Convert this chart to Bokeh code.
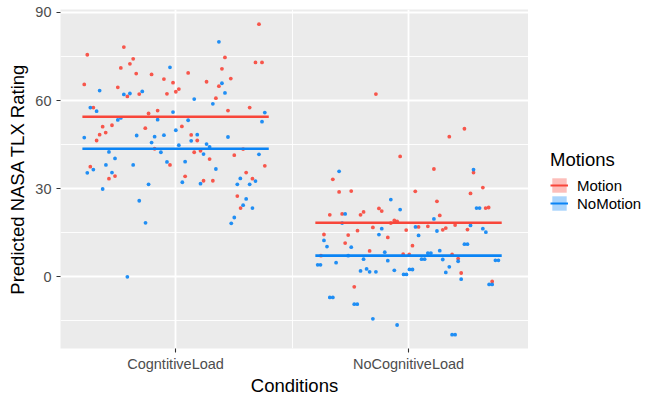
from bokeh.plotting import figure
from bokeh.layouts import row
from bokeh.models import FixedTicker, Legend, LegendItem, Range1d
from bokeh.embed import file_html
from bokeh.resources import INLINE

# ---------------- data ----------------
categories = ["CogntitiveLoad", "NoCognitiveLoad"]
series = ["Motion", "NoMotion"]
y_ticks = [0, 30, 60, 90]

# CogntitiveLoad / Motion (jitter offset around category, predicted rating)
cl_motion_jit = [-0.379, -0.222, -0.182, -0.196, -0.235, -0.392, -0.169, -0.103, -0.248, -0.050,
                 -0.011, -0.207, -0.156, -0.037, 0.001, 0.014, 0.054, 0.133, 0.186, 0.199,
                 0.212, 0.237, 0.173, 0.358, 0.343, 0.371, -0.353, -0.077, -0.116, 0.225,
                 0.318, -0.313, -0.273, -0.326, -0.300, -0.339, -0.130, 0.027, 0.067, 0.093,
                 0.080, 0.107, 0.146, 0.252, 0.290, 0.383, -0.366, -0.260, -0.286, -0.024,
                 0.041, 0.303, 0.330, -0.090, 0.120, 0.160, 0.265, 0.279]
cl_motion_y = [75.6, 78.2, 74.2, 72.5, 71.1, 65.5, 69.2, 68.9, 64.5, 67.3,
               66.1, 61.4, 62.2, 62.3, 63.0, 63.9, 69.4, 66.4, 64.9, 70.8,
               74.7, 67.5, 60.8, 86.0, 73.0, 73.0, 57.6, 56.6, 55.6, 56.6,
               57.6, 51.1, 51.6, 48.4, 49.1, 46.4, 50.6, 51.2, 48.3, 46.4,
               42.4, 42.9, 40.1, 41.4, 43.5, 37.8, 37.5, 34.3, 33.4, 38.1,
               34.2, 35.5, 33.4, 43.6, 32.7, 32.7, 27.5, 23.4]

# CogntitiveLoad / NoMotion
cl_nomotion_jit = [0.186, -0.326, -0.222, -0.196, -0.143, -0.024, 0.199, 0.212, 0.080, 0.160,
                   -0.366, -0.339, -0.011, -0.248, -0.235, -0.077, 0.054, 0.383, 0.371, -0.392,
                   -0.167, -0.090, -0.050, -0.103, 0.001, 0.014, 0.067, 0.093, 0.133, 0.146,
                   0.120, 0.225, -0.286, -0.260, -0.063, -0.299, -0.182, -0.037, 0.041, 0.173,
                   0.358, -0.379, -0.353, -0.273, 0.278, 0.343, 0.029, 0.107, 0.265, 0.318,
                   -0.116, -0.313, 0.303, 0.290, 0.330, 0.252, 0.239, -0.156, -0.129, -0.207]
cl_nomotion_y = [80.0, 63.4, 62.1, 62.4, 63.1, 71.3, 65.9, 62.6, 60.5, 58.9,
                 57.6, 56.4, 56.1, 53.4, 54.1, 53.5, 53.3, 55.9, 52.8, 47.4,
                 48.1, 47.7, 48.2, 45.7, 49.9, 44.8, 46.3, 48.4, 45.2, 44.2,
                 41.8, 47.6, 42.5, 40.3, 42.4, 38.1, 38.1, 39.1, 39.2, 36.7,
                 41.7, 35.4, 36.5, 35.5, 33.5, 32.6, 32.2, 31.7, 31.5, 31.5,
                 31.5, 29.9, 26.5, 24.4, 23.4, 20.2, 18.2, 25.9, 18.4, 0.0]

# NoCognitiveLoad / Motion
ncl_motion_jit = [-0.140, 0.240, 0.175, -0.036, -0.325, 0.109, 0.279, 0.319, -0.298, -0.246,
                  0.029, 0.266, 0.122, -0.127, 0.331, 0.344,
                  -0.115, -0.338, -0.285, -0.206, -0.193, -0.061, -0.049, -0.076, 0.134, -0.153,
                  0.043, 0.083, 0.147, 0.160, 0.200, 0.253, -0.010, -0.219, -0.363, -0.259,
                  -0.089, -0.272, 0.017, -0.167, -0.023, 0.003, 0.187, -0.376, 0.213, 0.226,
                  0.359, -0.233]
ncl_motion_y = [62.2, 50.4, 47.7, 41.0, 33.2, 36.7, 35.5, 30.4, 28.9, 29.2,
                29.1, 28.4, 25.7, 23.3, 23.4, 23.6,
                22.4, 21.1, 21.4, 21.1, 22.1, 19.2, 18.9, 18.3, 20.9, 16.8,
                17.0, 17.2, 16.0, 16.6, 17.6, 16.1, 15.9, 15.7, 14.4, 14.2,
                13.4, 11.5, 10.6, 8.8, 7.7, 7.6, 7.6, 7.2, 6.2, 1.3,
                -1.6, -3.4]

# NoCognitiveLoad / NoMotion
ncl_nomotion_jit = [-0.298, 0.279, -0.076, -0.036, 0.292, 0.305,
                    -0.272, 0.109, -0.285, -0.115, 0.030, 0.122, 0.266, 0.319, 0.332, -0.127,
                    0.043, -0.363, -0.350, -0.246, 0.240, 0.253, -0.102, 0.083, 0.096, 0.134,
                    -0.259, -0.311, -0.193, -0.089, 0.056, 0.069, 0.147, 0.213, -0.390, -0.378,
                    0.373, 0.386, -0.206, -0.180, -0.167, -0.140, -0.061, 0.004, 0.017, -0.021,
                    -0.009, 0.175, 0.160, 0.226, 0.346, 0.359, -0.338, -0.325, -0.233, -0.220,
                    -0.153, -0.049, 0.187, 0.200]
ncl_nomotion_y = [35.9, 36.5, 26.3, 22.9, 23.4, 23.4,
                  21.4, 19.7, 18.3, 16.4, 17.0, 15.6, 17.5, 16.4, 15.2, 14.4,
                  14.1, 12.4, 10.3, 10.1, 11.1, 11.1, 8.4, 8.1, 8.1, 8.9,
                  7.2, 4.8, 6.0, 5.5, 6.0, 6.0, 5.9, 5.3, 4.1, 4.1,
                  5.6, 5.6, 2.0, 2.7, 1.7, 1.7, 2.2, 2.5, 2.5, 0.8,
                  0.8, 3.4, 1.5, -0.8, -2.6, -2.6, -7.0, -7.0, -9.3, -9.3,
                  -14.3, -16.4, -19.7, -19.7]

# mean (predicted) lines per category
motion_means = [54.5, 18.4]
nomotion_means = [43.6, 7.2]

# ---------------- styling ----------------
RED = "#F8463A"
BLUE = "#0A84F5"
FONT = "Liberation Sans"

p = figure(width=528, height=398, output_backend="svg", toolbar_location=None,
           x_range=Range1d(0.506, 2.515), y_range=Range1d(-24.4, 91.0),
           min_border_left=60, min_border_right=0, min_border_top=9, min_border_bottom=49)
p.background_fill_color = "#EBEBEB"
p.border_fill_color = "white"
p.outline_line_color = None

cat_pos = [1, 2]

def place(cat_index, jit):
    return [cat_pos[cat_index] + j for j in jit]

pt = dict(size=3.8, line_color=None, fill_alpha=0.9)
p.scatter(place(0, cl_motion_jit), cl_motion_y, fill_color=RED, **pt)
p.scatter(place(0, cl_nomotion_jit), cl_nomotion_y, fill_color=BLUE, **pt)
p.scatter(place(1, ncl_motion_jit), ncl_motion_y, fill_color=RED, **pt)
p.scatter(place(1, ncl_nomotion_jit), ncl_nomotion_y, fill_color=BLUE, **pt)

hw = 0.4
line_kw = dict(line_width=2.6)
p.segment(x0=[c - hw for c in cat_pos], x1=[c + hw for c in cat_pos],
          y0=motion_means, y1=motion_means, line_color=RED, **line_kw)
p.segment(x0=[c - hw for c in cat_pos], x1=[c + hw for c in cat_pos],
          y0=nomotion_means, y1=nomotion_means, line_color=BLUE, **line_kw)

# axes
p.xaxis.ticker = FixedTicker(ticks=cat_pos, minor_ticks=[1.5])
p.xaxis.major_label_overrides = {1: categories[0], 2: categories[1]}
p.yaxis.ticker = FixedTicker(ticks=y_ticks, minor_ticks=[-15, 15, 45, 75])

for ax in (p.xaxis[0], p.yaxis[0]):
    ax.axis_line_color = None
    ax.major_tick_line_color = "#333333"
    ax.major_tick_line_width = 1.1
    ax.major_tick_out = 4
    ax.major_tick_in = 0
    ax.minor_tick_out = 0
    ax.minor_tick_in = 0
    ax.major_label_text_font = FONT
    ax.major_label_text_font_size = "14.5px"
    ax.major_label_text_color = "#4D4D4D"
    ax.axis_label_text_font = FONT
    ax.axis_label_text_font_size = "18.5px"
    ax.axis_label_text_font_style = "normal"
    ax.axis_label_text_color = "black"

p.xaxis.major_label_standoff = 3
p.xaxis.axis_label_standoff = 0
p.yaxis.major_label_standoff = 5
p.yaxis.axis_label_standoff = 4

p.xaxis.axis_label = "Conditions"
p.yaxis.axis_label = "Predicted NASA TLX Rating"

for g in (p.xgrid[0], p.ygrid[0]):
    g.grid_line_color = "white"
    g.grid_line_width = 1.8
    g.minor_grid_line_color = "white"
    g.minor_grid_line_width = 0.9

# ---------------- legend panel (separate figure on the right) ----------------
lf = figure(width=117, height=398, output_backend="svg", toolbar_location=None,
            x_range=Range1d(0, 1), y_range=Range1d(0, 1),
            min_border_left=0, min_border_right=0, min_border_top=0, min_border_bottom=0,
            x_axis_type=None, y_axis_type=None)
lf.grid.visible = False
lf.outline_line_color = None
lf.background_fill_color = "white"
lf.border_fill_color = "white"

# off-range proxy glyphs, only used to draw the legend keys
far = [-10]
bg_m = lf.rect(x=far, y=far, width=1, height=1, fill_color=RED, fill_alpha=0.35, line_color=None)
bg_n = lf.rect(x=far, y=far, width=1, height=1, fill_color=BLUE, fill_alpha=0.35, line_color=None)
ln_m = lf.segment(x0=far, y0=far, x1=far, y1=far, line_color=RED, line_width=2)
ln_n = lf.segment(x0=far, y0=far, x1=far, y1=far, line_color=BLUE, line_width=2)

legend = Legend(items=[LegendItem(label=series[0], renderers=[bg_m, ln_m]),
                       LegendItem(label=series[1], renderers=[bg_n, ln_n])],
                location=(22, 136), title="Motions",
                glyph_width=18, glyph_height=18, label_height=17, label_standoff=9,
                spacing=0, padding=0, margin=0,
                background_fill_alpha=0, border_line_color=None,
                label_text_font=FONT, label_text_font_size="15px", label_text_color="black",
                title_text_font=FONT, title_text_font_size="18.5px", title_text_font_style="normal",
                title_text_color="black", title_standoff=5)
lf.add_layout(legend, "center")

layout = row(p, lf, spacing=0)
open("out.html", "w").write(file_html(layout, INLINE))
